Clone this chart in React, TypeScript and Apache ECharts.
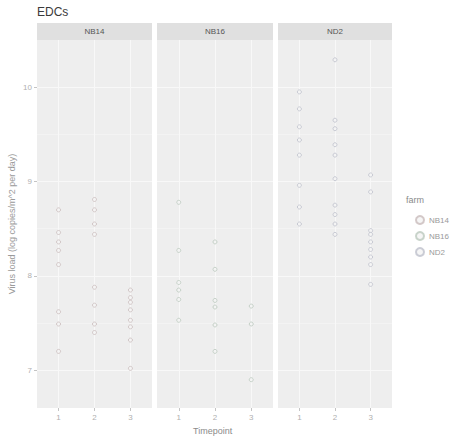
import React, { useEffect, useRef } from "react";
import * as echarts from "echarts";

const title = "EDCs";
const farms = ["NB14", "NB16", "ND2"];
const timepoints = [1, 2, 3];
const yTicks = [7, 8, 9, 10];
const yGrid = [7, 7.5, 8, 8.5, 9, 9.5, 10];

// values per farm, per timepoint
const nb14T1 = [8.7, 8.46, 8.36, 8.27, 8.12, 7.62, 7.49, 7.2];
const nb14T2 = [8.81, 8.7, 8.55, 8.44, 7.88, 7.69, 7.49, 7.4];
const nb14T3 = [7.85, 7.77, 7.72, 7.64, 7.53, 7.46, 7.32, 7.02];
const nb16T1 = [8.78, 8.27, 7.93, 7.85, 7.75, 7.53];
const nb16T2 = [8.36, 8.07, 7.74, 7.67, 7.48, 7.2];
const nb16T3 = [7.68, 7.49, 6.9];
const nd2T1 = [9.95, 9.77, 9.58, 9.44, 9.28, 8.96, 8.73, 8.55];
const nd2T2 = [10.29, 9.65, 9.56, 9.39, 9.28, 9.03, 8.75, 8.65, 8.55, 8.44];
const nd2T3 = [9.07, 8.89, 8.48, 8.44, 8.36, 8.28, 8.2, 8.12, 7.91];

const farmValues = [
  [nb14T1, nb14T2, nb14T3],
  [nb16T1, nb16T2, nb16T3],
  [nd2T1, nd2T2, nd2T3],
];
const farmColors = ["#c9bcbb", "#bcc9be", "#bec1cc"];

const FONT = "Liberation Sans, Arial, sans-serif";
const panels = [
  { left: 37, width: 115 },
  { left: 157, width: 116 },
  { left: 278, width: 114 },
];
const TOP = 40;
const HEIGHT = 368;

export default function App() {
  const ref = useRef<HTMLDivElement>(null);
  useEffect(() => {
    if (!ref.current) return;
    document.body.style.margin = "0";
    const chart = echarts.init(ref.current, null, { renderer: "svg" });

    const grids = panels.map((p) => ({
      left: p.left,
      width: p.width,
      top: TOP,
      height: HEIGHT,
      show: true,
      backgroundColor: "#eeeeee",
      borderWidth: 0,
    }));

    const xAxes = panels.map((_, i) => ({
      type: "value",
      gridIndex: i,
      min: 0.4,
      max: 3.6,
      splitLine: { show: false },
      axisLine: { show: false },
      axisTick: {
        show: true,
        customValues: timepoints,
        length: 3,
        lineStyle: { color: "#c4c4c4" },
      },
      axisLabel: {
        show: true,
        customValues: timepoints,
        color: "#b0b0b0",
        fontSize: 8,
        fontFamily: FONT,
        margin: 5,
      },
    }));

    const yAxes = panels.map((_, i) => ({
      type: "value",
      gridIndex: i,
      min: 6.6,
      max: 10.5,
      splitLine: { show: false },
      axisLine: { show: false },
      axisTick: {
        show: i === 0,
        customValues: yTicks,
        length: 3,
        lineStyle: { color: "#c4c4c4" },
      },
      axisLabel: {
        show: i === 0,
        customValues: yTicks,
        color: "#b0b0b0",
        fontSize: 8,
        fontFamily: FONT,
        margin: 5,
      },
    }));

    const gridSeries = panels.map((_, i) => ({
      type: "scatter",
      name: "grid" + i,
      xAxisIndex: i,
      yAxisIndex: i,
      data: [],
      z: 1,
      silent: true,
      markLine: {
        silent: true,
        symbol: "none",
        label: { show: false },
        animation: false,
        data: [
          ...yGrid.map((v) => ({
            yAxis: v,
            lineStyle: { color: "#f8f8f8", width: Number.isInteger(v) ? 1 : 0.5, type: "solid" },
          })),
          ...timepoints.map((t) => ({
            xAxis: t,
            lineStyle: { color: "#f8f8f8", width: 1, type: "solid" },
          })),
        ],
      },
    }));

    const pointSeries = farms.map((f, i) => ({
      type: "scatter",
      name: f,
      xAxisIndex: i,
      yAxisIndex: i,
      symbol: "circle",
      symbolSize: 4,
      z: 5,
      itemStyle: { color: "#f4f4f4", borderColor: farmColors[i], borderWidth: 1 },
      data: farmValues[i].flatMap((vals, t) => vals.map((v) => [timepoints[t], v])),
    }));

    const graphics: any[] = [
      {
        type: "text",
        left: 37,
        top: 6,
        style: { text: title, fontSize: 12, fontFamily: FONT, fill: "#3a3a3a" },
      },
      {
        type: "text",
        left: 193,
        top: 426,
        style: { text: "Timepoint", fontSize: 9, fontFamily: FONT, fill: "#8a8a8a" },
      },
      {
        type: "text",
        x: 12,
        y: 224,
        rotation: Math.PI / 2,
        style: {
          text: "Virus load (log copies/m^2 per day)",
          fontSize: 9,
          fontFamily: FONT,
          fill: "#9a9a9a",
          align: "center",
          verticalAlign: "middle",
        },
      },
      {
        type: "text",
        left: 406,
        top: 195,
        style: { text: "farm", fontSize: 9, fontFamily: FONT, fill: "#8a8a8a" },
      },
    ];
    panels.forEach((p, i) => {
      graphics.push({
        type: "rect",
        shape: { x: p.left, y: 23, width: p.width, height: 17 },
        style: { fill: "#e0e0e0" },
      });
      graphics.push({
        type: "text",
        x: p.left + p.width / 2,
        y: 31.5,
        style: {
          text: farms[i],
          fontSize: 8,
          fontFamily: FONT,
          fill: "#555555",
          align: "center",
          verticalAlign: "middle",
        },
      });
    });

    chart.setOption({
      animation: false,
      backgroundColor: "#ffffff",
      grid: grids,
      xAxis: xAxes,
      yAxis: yAxes,
      legend: {
        data: farms,
        orient: "vertical",
        left: 410,
        top: 210,
        itemWidth: 8,
        itemHeight: 8,
        itemGap: 6,
        icon: "circle",
        textStyle: { fontSize: 8, fontFamily: FONT, color: "#9a9a9a" },
      },
      graphic: graphics,
      series: [...gridSeries, ...pointSeries],
    });
    return () => chart.dispose();
  }, []);
  return <div ref={ref} style={{ width: 476, height: 439 }} />;
}
